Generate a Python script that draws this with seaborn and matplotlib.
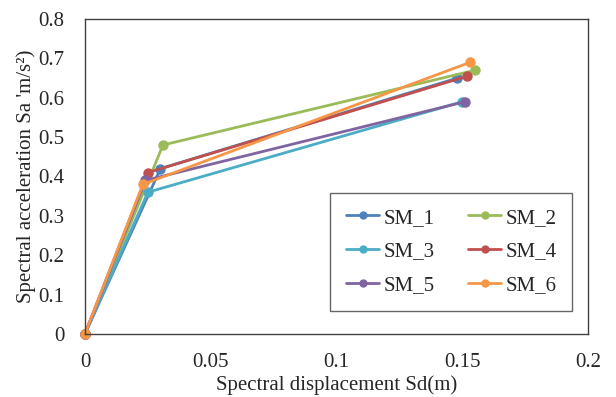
import matplotlib
matplotlib.use("Agg")
import matplotlib.pyplot as plt
import seaborn as sns
import pandas as pd

series = ["SM_1", "SM_2", "SM_3", "SM_4", "SM_5", "SM_6"]
sd_values = {
    "SM_1": [0.0, 0.030, 0.148],
    "SM_2": [0.0, 0.031, 0.155],
    "SM_3": [0.0, 0.025, 0.150],
    "SM_4": [0.0, 0.025, 0.152],
    "SM_5": [0.0, 0.024, 0.151],
    "SM_6": [0.0, 0.023, 0.153],
}
sa_values = {
    "SM_1": [0.0, 0.42, 0.65],
    "SM_2": [0.0, 0.48, 0.67],
    "SM_3": [0.0, 0.36, 0.59],
    "SM_4": [0.0, 0.41, 0.655],
    "SM_5": [0.0, 0.39, 0.59],
    "SM_6": [0.0, 0.38, 0.69],
}
colors = ["#4F81BD", "#9BBB59", "#4BACC6", "#C0504D", "#8064A2", "#F79646"]
x_ticks = [0, 0.05, 0.1, 0.15, 0.2]
x_tick_labels = ["0", "0.05", "0.1", "0.15", "0.2"]
y_ticks = [0, 0.1, 0.2, 0.3, 0.4, 0.5, 0.6, 0.7, 0.8]
y_tick_labels = ["0", "0.1", "0.2", "0.3", "0.4", "0.5", "0.6", "0.7", "0.8"]

rows = []
for name in series:
    for order, (sd, sa) in enumerate(zip(sd_values[name], sa_values[name])):
        rows.append({"series": name, "order": order, "Sd": sd, "Sa": sa})
df = pd.DataFrame(rows)

sns.set_style("white")
plt.rcParams["font.family"] = ["Liberation Serif", "DejaVu Serif"]

fig = plt.figure(figsize=(6.16, 3.97), dpi=100)
ax = fig.add_axes([0.138, 0.159, 0.817, 0.793])

sns.lineplot(data=df, x="Sd", y="Sa", hue="series", hue_order=series,
             palette=colors, marker="o", markersize=7.5, markeredgewidth=0,
             linewidth=2.0, sort=False, estimator=None, units="series",
             ax=ax, legend=False, clip_on=False)

ax.set_xlim(0, 0.2)
ax.set_ylim(0, 0.8)
ax.set_xticks(x_ticks)
ax.set_xticklabels(x_tick_labels)
ax.set_yticks(y_ticks)
ax.set_yticklabels(y_tick_labels)
ax.tick_params(axis="both", labelsize=15, length=0, pad=14)
ax.tick_params(axis="y", pad=15)
ax.set_xlabel("Spectral displacement Sd(m)", fontsize=15)
ax.set_ylabel("Spectral acceleration Sa 'm/s²)", fontsize=15)
ax.xaxis.set_label_coords(0.5, -0.132)
ax.yaxis.set_label_coords(-0.097, 0.5)
for spine in ax.spines.values():
    spine.set_color("#404040")
    spine.set_linewidth(1.0)

# two-column legend filled row by row
legend_order = [0, 2, 4, 1, 3, 5]
handles = [plt.Line2D([], [], color=colors[i], marker="o", markersize=6,
                      markeredgewidth=0, linewidth=2) for i in legend_order]
labels = [series[i] for i in legend_order]
leg = ax.legend(handles, labels, ncol=2, loc="lower right",
                bbox_to_anchor=(0.968, 0.073), borderaxespad=0,
                fontsize=15, frameon=True, fancybox=False,
                edgecolor="#404040", handlelength=1.6, columnspacing=1.6,
                labelspacing=0.68, borderpad=0.75, handletextpad=0.2)
leg.get_frame().set_linewidth(1.0)

fig.savefig("out.png", dpi=100)
